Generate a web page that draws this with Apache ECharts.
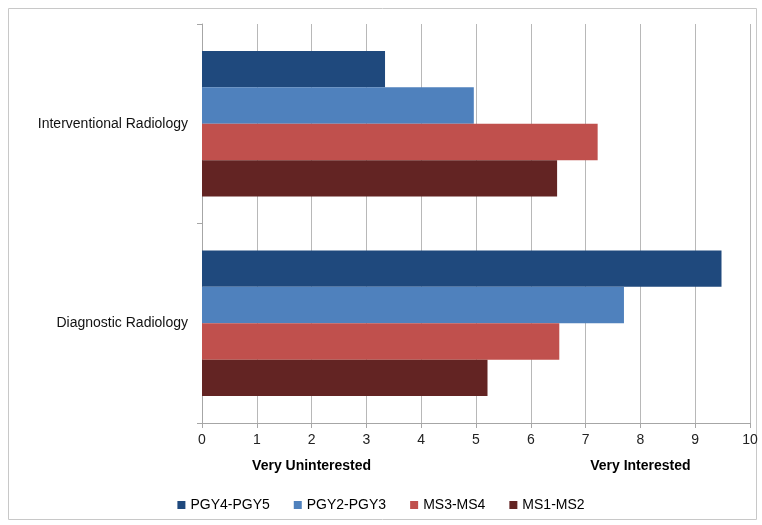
<!DOCTYPE html>
<html><head><meta charset="utf-8">
<script src="https://cdn.jsdelivr.net/npm/echarts@6/dist/echarts.min.js"></script>
<style>html,body{margin:0;padding:0;background:#fff}#c{width:762px;height:525px}</style>
</head><body><div id="c"></div>
<script>
var categories = ['Interventional Radiology', 'Diagnostic Radiology'];
var seriesNames = ['PGY4-PGY5', 'PGY2-PGY3', 'MS3-MS4', 'MS1-MS2'];
var pgy45 = [3.34, 9.48];
var pgy23 = [4.96, 7.70];
var ms34 = [7.22, 6.52];
var ms12 = [6.48, 5.21];
var xTicks = [0,1,2,3,4,5,6,7,8,9,10];
var scaleLabels = [{text: 'Very Uninterested', value: 2}, {text: 'Very Interested', value: 8}];
var colors = ['#1F497D', '#4F81BD', '#C0504D', '#632423'];
var values = [pgy45, pgy23, ms34, ms12];

var chart = echarts.init(document.getElementById('c'));
var font = 'Liberation Sans, Arial, sans-serif';
var option = {
  animation: false,
  textStyle: {fontFamily: font},
  grid: {left: 202, right: 12, top: 24, bottom: 102, containLabel: false},
  legend: {
    bottom: 8, left: 'center', itemWidth: 8, itemHeight: 8, itemGap: 24,
    icon: 'rect', data: seriesNames,
    textStyle: {fontSize: 14, color: '#000', fontFamily: font}
  },
  xAxis: {
    type: 'value', min: 0, max: 10, interval: 1,
    axisLine: {show: true, lineStyle: {color: '#a6a6a6'}},
    axisTick: {show: true, length: 5, lineStyle: {color: '#a6a6a6'}},
    axisLabel: {fontSize: 14, color: '#222', margin: 10,
      formatter: function (v) { return xTicks.indexOf(v) >= 0 ? String(v) : ''; }},
    splitLine: {show: true, lineStyle: {color: '#b8b8b8'}}
  },
  yAxis: {
    type: 'category', data: categories, inverse: true,
    axisLine: {show: true, lineStyle: {color: '#a6a6a6'}},
    axisTick: {show: true, length: 5, lineStyle: {color: '#a6a6a6'}},
    axisLabel: {fontSize: 14, color: '#111', margin: 14}
  },
  series: seriesNames.map(function (n, i) {
    return {
      name: n, type: 'bar', data: values[i], barGap: '0%', barCategoryGap: '27%',
      itemStyle: {color: colors[i]}
    };
  })
};
chart.setOption(option);
var y = 466;
chart.setOption({
  graphic: [{
    type: 'rect', shape: {x: 8.5, y: 8.5, width: 748, height: 511},
    style: {fill: 'none', stroke: '#c8c8c8', lineWidth: 1}, silent: true, z: -1
  }].concat(scaleLabels.map(function (s) {
    var px = chart.convertToPixel({xAxisIndex: 0}, s.value);
    return {
      type: 'text', left: null, x: px, y: y,
      style: {text: s.text, fontSize: 14, fontWeight: 'bold', fill: '#000',
        font: 'bold 14px ' + font, textAlign: 'center', textVerticalAlign: 'middle'}
    };
  }))
});
</script></body></html>
